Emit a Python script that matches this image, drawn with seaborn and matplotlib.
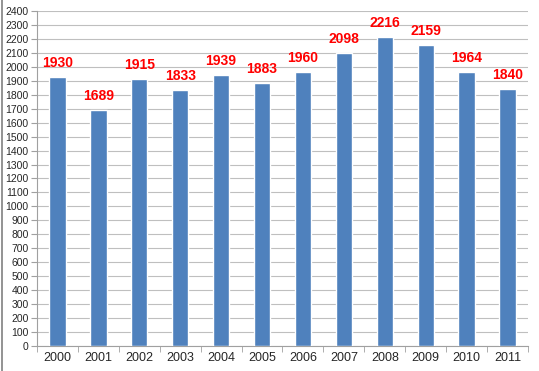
import seaborn as sns
import matplotlib.pyplot as plt
import matplotlib.lines as mlines
import pandas as pd
import numpy as np

# data
years = ['2000', '2001', '2002', '2003', '2004', '2005',
         '2006', '2007', '2008', '2009', '2010', '2011']
counts = [1930, 1689, 1915, 1833, 1939, 1883, 1960, 2098, 2216, 2159, 1964, 1840]

df = pd.DataFrame({'year': years, 'count': counts})

sns.set_style("white")
plt.rcParams['font.family'] = ['Liberation Sans', 'DejaVu Sans']

fig = plt.figure(figsize=(5.39, 3.71), dpi=100)
ax = fig.add_axes([0.0686, 0.0674, 0.911, 0.903])

sns.barplot(data=df, x='year', y='count', color='#4F81BD', saturation=1,
            width=0.4, ax=ax, zorder=3)

# value labels in red above each bar
for i, v in enumerate(df['count']):
    ax.annotate(str(v), (i, v), xytext=(0, 5), textcoords='offset points',
                ha='center', va='bottom', color='#FF0000',
                fontsize=10, fontweight='bold')

ax.set_ylim(0, 2400)
ax.set_xlim(-0.5, len(years) - 0.5)
ax.set_yticks(np.arange(0, 2401, 100))
ax.yaxis.grid(True, color='#BFBFBF', linewidth=0.8, zorder=0)
ax.set_axisbelow(True)
ax.set_xlabel('')
ax.set_ylabel('')

ax.tick_params(axis='y', labelsize=7.5, length=4, color='#A0A0A0', left=True, pad=2)
ax.tick_params(axis='x', labelsize=9, length=0, pad=4)
# tick marks between categories
ax.set_xticks(np.arange(-0.5, len(years), 1), minor=True)
ax.tick_params(axis='x', which='minor', length=4, color='#A0A0A0', bottom=True)

for side in ['top', 'right']:
    ax.spines[side].set_visible(False)
for side in ['left', 'bottom']:
    ax.spines[side].set_color('#A0A0A0')
    ax.spines[side].set_linewidth(0.8)

# thin grey frame edge on the left of the picture
fig.add_artist(mlines.Line2D([0.004, 0.004], [0, 1], color='#808080',
                             linewidth=1.2, transform=fig.transFigure))

plt.savefig('out.png', dpi=100)
plt.close()
